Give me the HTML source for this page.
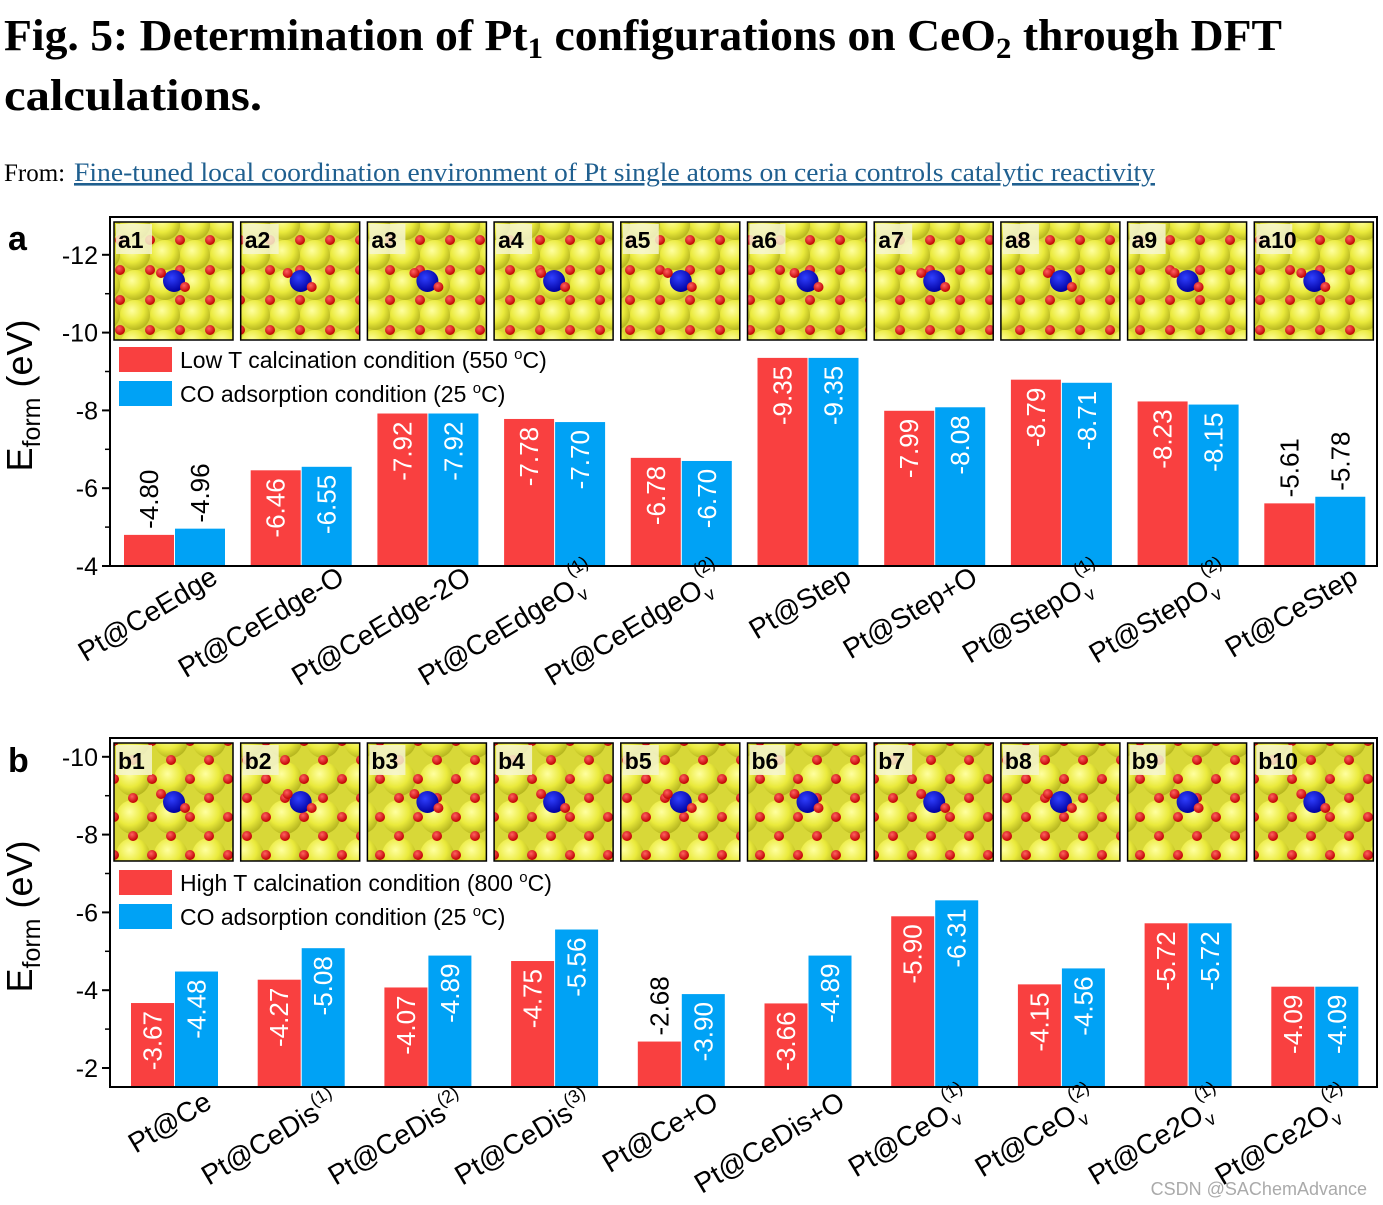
<!DOCTYPE html>
<html><head><meta charset="utf-8"><style>
html,body{margin:0;padding:0;background:#fff;}
svg{display:block;font-family:"Liberation Sans",sans-serif;}
</style></head><body>
<svg id="fig" width="1383" height="1205" viewBox="0 0 1383 1205" xmlns="http://www.w3.org/2000/svg">
<defs>
<radialGradient id="ysph" cx="40%" cy="35%" r="65%"><stop offset="0" stop-color="#ffffa0"/><stop offset="0.6" stop-color="#eaea3c"/><stop offset="1" stop-color="#b8b820"/></radialGradient>
<radialGradient id="rsph" cx="40%" cy="35%" r="65%"><stop offset="0" stop-color="#ff6060"/><stop offset="1" stop-color="#c00000"/></radialGradient>
<radialGradient id="bsph" cx="40%" cy="35%" r="65%"><stop offset="0" stop-color="#3040ff"/><stop offset="1" stop-color="#0000a0"/></radialGradient>
<pattern id="surfA" width="30" height="30" patternUnits="userSpaceOnUse">
<rect width="30" height="30" fill="#d8d838"/>
<circle cx="15" cy="15" r="15" fill="url(#ysph)"/>
<circle cx="0" cy="0" r="5" fill="url(#rsph)"/><circle cx="30" cy="0" r="5" fill="url(#rsph)"/>
<circle cx="0" cy="30" r="5" fill="url(#rsph)"/><circle cx="30" cy="30" r="5" fill="url(#rsph)"/>
</pattern>
<pattern id="surfB" width="38" height="38" patternUnits="userSpaceOnUse">
<rect width="38" height="38" fill="#d8d838"/>
<circle cx="19" cy="19" r="17" fill="url(#ysph)"/>
<circle cx="0" cy="19" r="5" fill="url(#rsph)"/><circle cx="38" cy="19" r="5" fill="url(#rsph)"/>
<circle cx="19" cy="0" r="5" fill="url(#rsph)"/><circle cx="19" cy="38" r="5" fill="url(#rsph)"/>
</pattern>
</defs>
<text x="4" y="50" font-family="Liberation Serif,serif" font-weight="bold" font-size="44" textLength="1278" lengthAdjust="spacingAndGlyphs">Fig. 5: Determination of Pt<tspan font-size="30" dy="8">1</tspan><tspan dy="-8"> configurations on CeO</tspan><tspan font-size="30" dy="8">2</tspan><tspan dy="-8"> through DFT</tspan></text>
<text x="4" y="110" font-family="Liberation Serif,serif" font-weight="bold" font-size="44" textLength="258" lengthAdjust="spacingAndGlyphs">calculations.</text>
<text x="4" y="181" font-family="Liberation Serif,serif" font-size="25">From:</text>
<text x="74" y="181" font-family="Liberation Serif,serif" font-size="26" fill="#1f5f8f" text-decoration="underline" textLength="1081" lengthAdjust="spacingAndGlyphs">Fine-tuned local coordination environment of Pt single atoms on ceria controls catalytic reactivity</text>
<g id="panels"></g>
<text x="1367" y="1195" text-anchor="end" font-size="18" fill="#aaa">CSDN @SAChemAdvance</text>
</svg>
<script>
// Panel a data
const aCategories = ["Pt@CeEdge","Pt@CeEdge-O","Pt@CeEdge-2O","Pt@CeEdgeO|v|(1)","Pt@CeEdgeO|v|(2)","Pt@Step","Pt@Step+O","Pt@StepO|v|(1)","Pt@StepO|v|(2)","Pt@CeStep"];
const aRed = [-4.80,-6.46,-7.92,-7.78,-6.78,-9.35,-7.99,-8.79,-8.23,-5.61];
const aBlue = [-4.96,-6.55,-7.92,-7.70,-6.70,-9.35,-8.08,-8.71,-8.15,-5.78];
const aTicks = [-4,-6,-8,-10,-12];
const aThumbs = ["a1","a2","a3","a4","a5","a6","a7","a8","a9","a10"];
// Panel b data
const bCategories = ["Pt@Ce","Pt@CeDis||(1)","Pt@CeDis||(2)","Pt@CeDis||(3)","Pt@Ce+O","Pt@CeDis+O","Pt@CeO|v|(1)","Pt@CeO|v|(2)","Pt@Ce2O|v|(1)","Pt@Ce2O|v|(2)"];
const bRed = [-3.67,-4.27,-4.07,-4.75,-2.68,-3.66,-5.90,-4.15,-5.72,-4.09];
const bBlue = [-4.48,-5.08,-4.89,-5.56,-3.90,-4.89,-6.31,-4.56,-5.72,-4.09];
const bTicks = [-2,-4,-6,-8,-10];
const bThumbs = ["b1","b2","b3","b4","b5","b6","b7","b8","b9","b10"];

const NS="http://www.w3.org/2000/svg";
const root=document.getElementById('panels');
function mk(tag,attrs,parent){const e=document.createElementNS(NS,tag);for(const k in attrs)e.setAttribute(k,attrs[k]);(parent||root).appendChild(e);return e;}

function panel(cfg){
  const g=mk('g',{});
  
  
  const L=110,R=1377,T=cfg.top,B=cfg.bottom;
  const yv=v=>cfg.y0-((-v)-(-cfg.v0))*38.9;
  const gw=(R-L)/cfg.cats.length;
  const xg=i=>L+i*gw;
  cfg.thumbs.forEach((t,i)=>{
    const tx=xg(i)+4, ty=T+5, tw=119, th=118;
    const tg=mk('g',{},g);
    
    
    mk('rect',{x:tx,y:ty,width:tw,height:th,fill:cfg.pat,stroke:'#000','stroke-width':1.5},tg);
    mk('rect',{x:tx+2,y:ty+2,width:36,height:30,fill:'#f4f4d0',opacity:0.85},tg);
    mk('circle',{cx:tx+60,cy:ty+59,r:11,fill:'url(#bsph)'},tg);
    mk('circle',{cx:tx+47,cy:ty+51,r:5,fill:'url(#rsph)'},tg);
    mk('circle',{cx:tx+71,cy:ty+65,r:5,fill:'url(#rsph)'},tg);
    const lt=mk('text',{x:tx+4,y:ty+26,'font-size':23,'font-weight':'bold'},tg);lt.textContent=t;
  });
  cfg.legend.forEach((lg,i)=>{
    const ly=cfg.legY+i*34;
    const le=mk('g',{},g);
    
    
    mk('rect',{x:119,y:ly,width:53,height:25,fill:i?'#00a2f5':'#f94040'},le);
    const lt=mk('text',{x:180,y:ly+21,'font-size':23},le);
    lt.innerHTML=lg;
  });
  cfg.cats.forEach((c,i)=>{
    [[cfg.red[i],'#f94040',0],[cfg.blue[i],'#00a2f5',1]].forEach(([v,col,k])=>{
      const bx=xg(i)+cfg.off+k*(cfg.bw+1), top=yv(v);
      const r=mk('rect',{x:bx,y:top,width:cfg.bw,height:B-top,fill:col},g);
      
      
      const h=B-top, cx=bx+cfg.bw/2+9;
      const inside=h>75;
      const ty=inside?top+8:top-6;
      const t=mk('text',{x:cx,y:ty,'font-size':26,fill:inside?'#fff':'#000','text-anchor':inside?'end':'start',transform:`rotate(-90 ${cx} ${ty})`},g);
      
      
      t.textContent=v.toFixed(2);
    });
    const parts=c.split('|');
    const ax=xg(i)+gw/2+cfg.labDx, ay=B+cfg.labDy;
    const t=mk('text',{x:ax,y:ay,'font-size':28,'text-anchor':'end',transform:`rotate(-31 ${ax} ${ay})`},g);
    
    
    let html=parts[0];
    if(parts.length>1){
      if(parts[1]) html+=`<tspan font-size="18" dy="8">${parts[1]}</tspan><tspan font-size="18" dx="-6" dy="-27">${parts[2]}</tspan><tspan dy="19"> </tspan>`;
      else html+=`<tspan font-size="18" dy="-13">${parts[2]}</tspan><tspan dy="13"> </tspan>`;
    }
    t.innerHTML=html;
  });
  const f=mk('rect',{x:L,y:T,width:R-L,height:B-T,fill:'none',stroke:'#000','stroke-width':2},g);
  
  
  cfg.ticks.forEach(v=>{
    const ty=yv(v);
    mk('line',{x1:L-8,x2:L,y1:ty,y2:ty,stroke:'#000','stroke-width':2},g);
    const tm=yv(v-1);
    if(tm>T) mk('line',{x1:L-5,x2:L,y1:tm,y2:tm,stroke:'#000','stroke-width':1.5},g);
    const tl=mk('text',{x:L-12,y:ty+9,'font-size':25,'text-anchor':'end'},g);
    
    
    tl.textContent=String(v);
  });
  const yc=(T+B)/2+4;
  const yl=mk('text',{x:32,y:yc,'font-size':36,'text-anchor':'middle',transform:`rotate(-90 32 ${yc})`},g);
  
  
  yl.innerHTML='E<tspan font-size="25" dy="8">form</tspan><tspan dy="-8"> (eV)</tspan>';
  const pl=mk('text',{x:8,y:cfg.plY,'font-size':34,'font-weight':'bold'},g);
  
  
  pl.textContent=cfg.label;
}
panel({name:'panel-a',label:'a',plY:250,top:217,bottom:566,y0:566,v0:-4,ticks:aTicks,cats:aCategories,red:aRed,blue:aBlue,thumbs:aThumbs,pat:'url(#surfA)',off:14,bw:50,labDx:46,labDy:16,legY:347,
  legend:['Low T calcination condition (550 <tspan font-size="15" dy="-9">o</tspan><tspan dy="9">C)</tspan>','CO adsorption condition (25 <tspan font-size="15" dy="-9">o</tspan><tspan dy="9">C)</tspan>']});
panel({name:'panel-b',label:'b',plY:772,top:738,bottom:1087,y0:1068,v0:-2,ticks:bTicks,cats:bCategories,red:bRed,blue:bBlue,thumbs:bThumbs,pat:'url(#surfB)',off:21,bw:43,labDx:40,labDy:20,legY:870,
  legend:['High T calcination condition (800 <tspan font-size="15" dy="-9">o</tspan><tspan dy="9">C)</tspan>','CO adsorption condition (25 <tspan font-size="15" dy="-9">o</tspan><tspan dy="9">C)</tspan>']});
</script>
</body></html>
